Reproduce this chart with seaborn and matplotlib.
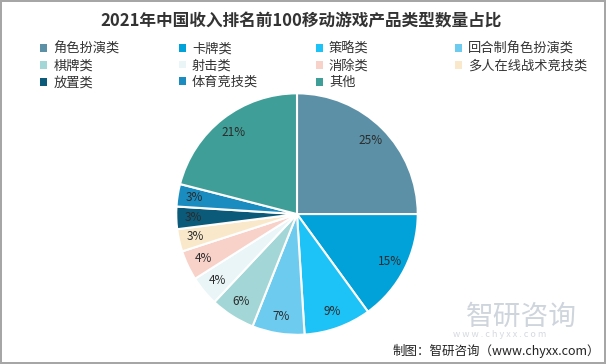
import matplotlib
matplotlib.use("Agg")
import matplotlib.pyplot as plt
import seaborn as sns
from matplotlib.patches import Patch

# 主题
sns.set_style("white")
plt.rcParams['font.family'] = ['Noto Sans CJK SC', 'DejaVu Sans']

# 数据
categories = ["角色扮演类", "卡牌类", "策略类", "回合制角色扮演类", "棋牌类", "射击类",
              "消除类", "多人在线战术竞技类", "放置类", "体育竞技类", "其他"]
shares = [25, 15, 9, 7, 6, 4, 4, 3, 3, 3, 21]
colors = ["#5C90A6", "#00A2D9", "#1DC2F6", "#6DCBEF", "#A3D6D6", "#E9F5F7",
          "#F8D1C9", "#F9E9CA", "#0C5A79", "#1A8CC0", "#3F9E97"]

fig = plt.figure(figsize=(6.06, 3.64), dpi=100)
fig.patch.set_edgecolor("#A6A6A6")
fig.patch.set_linewidth(1.5)

ax = fig.add_axes([0.2888, 0.0769, 0.4026, 0.670])
wedges, texts, autotexts = ax.pie(
    shares, colors=colors, startangle=90, counterclock=False,
    autopct=lambda p: f"{p:.0f}%", pctdistance=0.86,
    wedgeprops=dict(edgecolor="white", linewidth=1.5),
    textprops=dict(fontsize=8.5, color="#2B2B2B"))
ax.set_xlim(-1.01, 1.01)
ax.set_ylim(-1.01, 1.01)
ax.set_aspect("equal")

# 标题
fig.text(0.497, 0.94, "2021年中国收入排名前100移动游戏产品类型数量占比",
         ha="center", va="center", fontsize=12, fontweight="bold", color="#333333")

# 图例（按行排列，4列）
col_x = [0.066, 0.295, 0.521, 0.751]
for c in range(4):
    idx = list(range(c, len(categories), 4))
    handles = [Patch(facecolor=colors[i], edgecolor="none") for i in idx]
    fig.legend(handles, [categories[i] for i in idx], loc="upper left",
               bbox_to_anchor=(col_x[c], 0.884), frameon=False, fontsize=9.5,
               handlelength=0.55, handleheight=0.55, handletextpad=0.45,
               labelspacing=0.3, borderpad=0, borderaxespad=0,
               labelcolor="#333333")

# 水印与来源
fig.text(0.86, 0.13, "智研咨询", fontsize=20, color="#CFD5DD", ha="center", va="center")
fig.text(0.825, 0.08, "w w w . c h y x x . c o m", fontsize=6.5, color="#D5D9DF",
         ha="center", va="center")
fig.text(0.99, 0.035, "制图：智研咨询（www.chyxx.com）", fontsize=9, color="#222222",
         ha="right", va="center")

fig.savefig("out.png", dpi=100)
